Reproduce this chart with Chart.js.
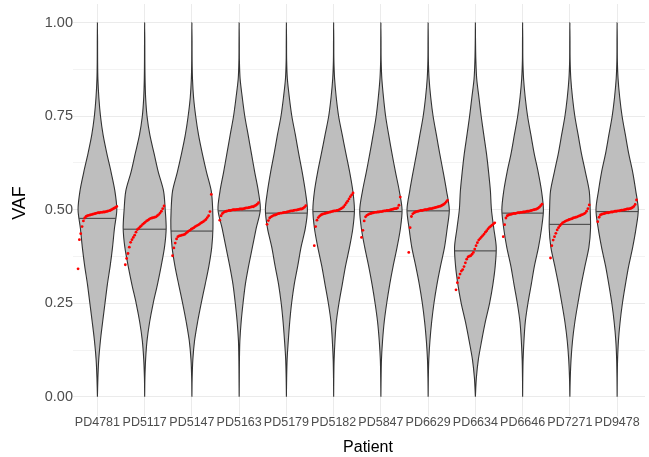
<!DOCTYPE html>
<html>
<head>
<meta charset="utf-8">
<script src="https://cdn.jsdelivr.net/npm/chart.js@4.4.0/dist/chart.umd.min.js"></script>
<style>
  html, body { margin: 0; padding: 0; background: #fff; }
</style>
</head>
<body>
<canvas id="chart" width="649" height="457"></canvas>
<script>
const patients = ['PD4781', 'PD5117', 'PD5147', 'PD5163', 'PD5179', 'PD5182',
                  'PD5847', 'PD6629', 'PD6634', 'PD6646', 'PD7271', 'PD9478'];

// VAF levels at which the violin half-widths were read
const vafLevels = [0, 0.05, 0.1, 0.15, 0.2, 0.25, 0.3, 0.35, 0.4, 0.45, 0.5,
                   0.55, 0.6, 0.65, 0.7, 0.75, 0.8, 0.85, 0.9, 0.95, 1];

// violin half-width (in category units) at each level, one row per patient
const halfWidths = [
  [0, .01, .028, .063, .11, .16, .21, .27, .32, .36, .41, .37, .29, .20, .12, .065, .03, .01, .004, .003, 0],
  [0, .005, .02, .05, .105, .18, .27, .35, .42, .455, .435, .40, .29, .20, .11, .05, .02, .008, .004, .003, 0],
  [0, .005, .02, .056, .12, .196, .28, .36, .42, .445, .44, .41, .31, .22, .14, .08, .035, .012, .004, .003, 0],
  [0, .003, .006, .015, .042, .082, .13, .20, .28, .36, .448, .405, .33, .26, .19, .119, .066, .02, .005, .003, 0],
  [0, .005, .015, .04, .07, .11, .165, .24, .31, .40, .445, .40, .335, .26, .19, .115, .062, .02, .005, .003, 0],
  [0, .003, .01, .028, .056, .112, .182, .252, .336, .406, .44, .406, .34, .26, .182, .105, .055, .02, .005, .003, 0],
  [0, .004, .012, .035, .07, .123, .186, .26, .343, .413, .448, .39, .31, .235, .165, .10, .055, .02, .005, .003, 0],
  [0, .004, .014, .038, .074, .123, .186, .263, .347, .403, .448, .39, .32, .245, .175, .105, .055, .02, .005, .003, 0],
  [0, .02, .063, .133, .21, .30, .37, .42, .441, .39, .34, .318, .28, .235, .178, .123, .075, .028, .01, .003, 0],
  [0, .003, .01, .028, .056, .112, .182, .25, .336, .40, .44, .40, .33, .245, .175, .105, .055, .02, .005, .003, 0],
  [0, .008, .025, .056, .105, .17, .24, .32, .403, .437, .43, .41, .33, .245, .175, .105, .055, .02, .005, .003, 0],
  [0, .003, .01, .028, .063, .112, .175, .245, .33, .40, .448, .395, .33, .245, .175, .105, .055, .02, .005, .003, 0]
];

const medians = [0.477, 0.448, 0.443, 0.497, 0.491, 0.495, 0.495, 0.497, 0.39, 0.491, 0.461, 0.495];

// sorted VAF of the highlighted (red) variants per patient
const redVaf = [
  [.342, .42, .436, .455, .47, .478, .482, .484, .485, .486, .487, .488, .489, .49, .491, .492, .492, .493, .493, .494, .494, .495, .496, .497, .498, .5, .502, .504, .506, .509],
  [.353, .37, .383, .40, .413, .42, .426, .432, .44, .447, .45, .454, .457, .461, .464, .467, .47, .472, .475, .477, .478, .479, .48, .481, .484, .487, .491, .496, .503, .51],
  [.377, .398, .411, .422, .428, .43, .431, .432, .433, .434, .437, .44, .443, .445, .448, .45, .452, .455, .457, .459, .461, .464, .466, .468, .471, .474, .479, .484, .495, .541],
  [.472, .484, .49, .493, .495, .496, .497, .498, .498, .499, .5, .5, .5, .501, .501, .502, .502, .502, .503, .504, .505, .505, .506, .507, .508, .508, .51, .512, .515, .519],
  [.461, .471, .478, .481, .483, .485, .486, .487, .489, .49, .491, .491, .492, .493, .493, .494, .495, .496, .497, .497, .498, .499, .499, .5, .501, .502, .502, .504, .507, .511],
  [.404, .455, .472, .479, .483, .486, .488, .489, .49, .491, .492, .493, .494, .495, .496, .497, .497, .498, .499, .501, .503, .505, .508, .513, .518, .523, .529, .535, .54, .545],
  [.426, .445, .47, .481, .485, .487, .489, .49, .491, .492, .493, .493, .494, .494, .495, .495, .496, .497, .497, .498, .498, .499, .5, .501, .502, .503, .503, .505, .512, .534],
  [.386, .452, .482, .489, .492, .494, .495, .496, .497, .498, .498, .499, .5, .5, .501, .502, .503, .503, .504, .505, .506, .507, .508, .509, .51, .512, .514, .517, .521, .525],
  [.286, .305, .318, .328, .336, .34, .348, .358, .368, .374, .376, .377, .381, .386, .395, .404, .412, .419, .423, .427, .431, .435, .44, .444, .449, .453, .456, .459, .462, .465],
  [.428, .46, .478, .484, .486, .487, .488, .489, .49, .49, .491, .492, .492, .493, .493, .494, .494, .495, .496, .496, .497, .498, .499, .5, .501, .502, .504, .507, .511, .515],
  [.371, .404, .419, .428, .437, .446, .452, .457, .461, .465, .467, .469, .471, .472, .474, .475, .476, .478, .479, .48, .481, .483, .484, .486, .487, .489, .491, .496, .503, .513],
  [.468, .48, .486, .488, .489, .49, .491, .492, .492, .493, .494, .494, .495, .496, .496, .497, .497, .498, .499, .499, .5, .501, .502, .502, .503, .504, .506, .509, .514, .526]
];

const yTicks = [0, 0.125, 0.25, 0.375, 0.5, 0.625, 0.75, 0.875, 1];
const yTickLabels = ['0.00', '', '0.25', '', '0.50', '', '0.75', '', '1.00'];

const FONT = '"Liberation Sans", Arial, sans-serif';
const SPREAD = 0.41; // half-range of the red point spread inside a violin

// half width at a given VAF
function widthAt(w, v) {
  for (let j = 0; j < vafLevels.length - 1; j++) {
    if (v >= vafLevels[j] && v <= vafLevels[j + 1]) {
      const t = (v - vafLevels[j]) / (vafLevels[j + 1] - vafLevels[j]);
      return w[j] + t * (w[j + 1] - w[j]);
    }
  }
  return 0;
}

const datasets = [];

patients.forEach((p, i) => {
  const n = redVaf[i].length;
  datasets.push({
    label: p + ' variants',
    data: redVaf[i].map((v, k) => ({ x: i - SPREAD + 2 * SPREAD * k / (n - 1), y: v })),
    showLine: false,
    pointRadius: 1.4,
    pointBackgroundColor: '#FF0000',
    pointBorderWidth: 0,
    order: 0
  });
});

patients.forEach((p, i) => {
  const hw = widthAt(halfWidths[i], medians[i]);
  datasets.push({
    label: p + ' median',
    data: [{ x: i - hw, y: medians[i] }, { x: i + hw, y: medians[i] }],
    borderColor: '#3d3d3d',
    borderWidth: 1,
    pointRadius: 0,
    fill: false,
    order: 1
  });
});

patients.forEach((p, i) => {
  const w = halfWidths[i];
  const pts = [];
  vafLevels.forEach((v, j) => pts.push({ x: i + w[j], y: v }));
  for (let j = vafLevels.length - 2; j >= 0; j--) pts.push({ x: i - w[j], y: vafLevels[j] });
  datasets.push({
    label: p,
    data: pts,
    borderColor: '#333333',
    borderWidth: 1.1,
    backgroundColor: '#BEBEBE',
    fill: 'shape',
    tension: 0.3,
    pointRadius: 0,
    order: 2
  });
});

const axisTitles = {
  id: 'axisTitles',
  afterDraw(chart) {
    const c = chart.ctx;
    c.save();
    c.fillStyle = '#000000';
    c.textAlign = 'center';
    c.textBaseline = 'middle';
    c.font = '16px ' + FONT;
    c.fillText('Patient', 368, 448);
    c.translate(20, 203);
    c.rotate(-Math.PI / 2);
    c.font = '18px ' + FONT;
    c.fillText('VAF', 0, 0);
    c.restore();
  }
};

new Chart(document.getElementById('chart'), {
  type: 'line',
  data: { datasets: datasets },
  options: {
    responsive: false,
    animation: false,
    layout: { padding: { top: 2.5, right: 0, left: 0, bottom: 0 } },
    plugins: {
      legend: { display: false },
      tooltip: { enabled: false }
    },
    scales: {
      x: {
        type: 'linear',
        min: -0.517,
        max: 11.59,
        afterBuildTicks: (scale) => { scale.ticks = patients.map((p, i) => ({ value: i })); },
        afterFit: (scale) => { scale.height = 41.5; scale.paddingLeft = 0; scale.paddingRight = 0; },
        grid: { color: '#EBEBEB', lineWidth: 1, drawTicks: false },
        border: { display: false },
        ticks: {
          padding: 0,
          autoSkip: false,
          maxRotation: 0,
          color: '#4D4D4D',
          font: { family: FONT, size: 12.5 },
          callback: (v) => patients[v] ?? ''
        }
      },
      y: {
        type: 'linear',
        min: -0.05,
        max: 1.05,
        afterBuildTicks: (scale) => { scale.ticks = yTicks.map(v => ({ value: v })); },
        afterFit: (scale) => { scale.width = 73; scale.paddingTop = 0; scale.paddingBottom = 0; },
        grid: {
          drawTicks: false,
          color: '#EBEBEB',
          lineWidth: (ctx) => (ctx.index % 2 ? 0.6 : 1.1)
        },
        border: { display: false },
        ticks: {
          padding: 0,
          color: '#4D4D4D',
          font: { family: FONT, size: 14.5 },
          callback: (v, idx) => yTickLabels[idx]
        }
      }
    }
  },
  plugins: [axisTitles]
});
</script>
</body>
</html>
